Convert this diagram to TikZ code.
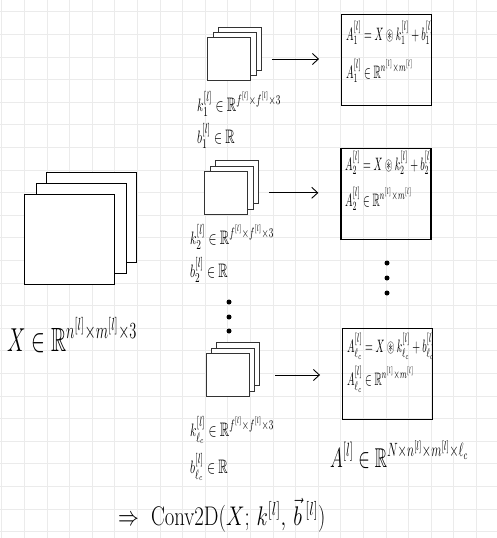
\documentclass[tikz,border=0pt]{standalone}
\usepackage{amssymb}
\usepackage{graphicx}
\usetikzlibrary{arrows.meta}

% 手書き風に縦長にする
\newcommand{\hw}[2][1.7]{\scalebox{1}[#1]{$#2$}}
\newcommand{\lyr}{^{[l]}}

\begin{document}
\begin{tikzpicture}[x=1pt,y=-1pt,
  gridline/.style={black!8, line width=0.6pt},
  slice/.style={draw, fill=white, line width=0.9pt, minimum size=90pt, inner sep=0},
  kslice/.style={draw=black!80, fill=white, line width=0.7pt, minimum size=43pt, inner sep=0},
  outbox/.style={draw, line width=1.3pt, minimum width=90pt, minimum height=91pt, inner sep=0},
  lbl/.style={anchor=base west, inner sep=0},
  conv/.style={-{Straight Barb[length=6pt,width=11pt]}, line width=0.9pt, shorten <=21pt, shorten >=22pt},
  dot/.style={circle, fill, inner sep=0, minimum size=5pt}]
  \useasboundingbox (0,0) rectangle (497,538);
  \fill[white] (0,0) rectangle (497,538);

  % 方眼
  \foreach \i in {0,...,21}
    \draw[gridline] ({1.7+22.6*\i},0) -- ({1.7+22.6*\i},538);
  \foreach \j in {0,...,23}
    \draw[gridline] (0,{11.7+22.6*\j}) -- (497,{11.7+22.6*\j});

  % 入力 X
  \node[slice] (X3) at (91.7,217.8) {};
  \node[slice] (X2) at (81,228.5) {};
  \node[slice] (X1) at (69.3,239.2) {};
  \node[lbl, font=\fontsize{21}{24}\selectfont] (Xlbl) at (7,351)
    {\hw[1.6]{X\in\mathbb{R}^{n\lyr\times m\lyr\times 3}}};

  % カーネル 1
  \node[kslice] (k1c) at (240,49) {};
  \node[kslice] (k1b) at (234.5,54) {};
  \node[kslice] (k1a) at (229,59) {};
  \node[lbl, font=\fontsize{13}{15}\selectfont] (k1lbl) at (197,111)
    {\hw[1.5]{k_1\lyr\in\mathbb{R}^{f\lyr\times f\lyr\times 3}}};
  \node[lbl, font=\fontsize{13}{15}\selectfont] (b1lbl) at (197,143)
    {\hw[1.5]{b_1\lyr\in\mathbb{R}}};

  % カーネル 2
  \node[kslice] (k2c) at (237.2,182.2) {};
  \node[kslice] (k2b) at (231.7,187.5) {};
  \node[kslice] (k2a) at (226.3,192.8) {};
  \node[lbl, font=\fontsize{13}{15}\selectfont] (k2lbl) at (190,244)
    {\hw[1.5]{k_2\lyr\in\mathbb{R}^{f\lyr\times f\lyr\times 3}}};
  \node[lbl, font=\fontsize{13}{15}\selectfont] (b2lbl) at (190,277)
    {\hw[1.5]{b_2\lyr\in\mathbb{R}}};

  % カーネル l_c
  \node[kslice] (k3c) at (238.3,364.2) {};
  \node[kslice] (k3b) at (232.9,369.6) {};
  \node[kslice] (k3a) at (227.5,375) {};
  \node[lbl, font=\fontsize{13}{15}\selectfont] (k3lbl) at (190,436)
    {\hw[1.5]{k_{\ell_c}\lyr\in\mathbb{R}^{f\lyr\times f\lyr\times 3}}};
  \node[lbl, font=\fontsize{13}{15}\selectfont] (b3lbl) at (190,473)
    {\hw[1.5]{b_{\ell_c}\lyr\in\mathbb{R}}};

  % 点々
  \node[dot] (kd1) at (229,302) {};
  \node[dot] (kd2) at (229,317) {};
  \node[dot] (kd3) at (229,331) {};
  \node[dot] (ad1) at (387,263) {};
  \node[dot] (ad2) at (387,278) {};
  \node[dot] (ad3) at (387,293) {};

  % 出力
  \node[outbox] (A1) at (386.7,60.2) {};
  \node[outbox] (A2) at (386,194) {};
  \node[outbox] (A3) at (387.7,373.8) {};
  \node[lbl, font=\fontsize{10}{12}\selectfont] (A1eq) at (346,40)
    {\hw[1.8]{A_1\lyr=X\circledast k_1\lyr+b_1\lyr}};
  \node[lbl, font=\fontsize{10}{12}\selectfont] (A1dim) at (346,78)
    {\hw[1.8]{A_1\lyr\in\mathbb{R}^{n\lyr\times m\lyr}}};
  \node[lbl, font=\fontsize{10}{12}\selectfont] (A2eq) at (345,170)
    {\hw[1.8]{A_2\lyr=X\circledast k_2\lyr+b_2\lyr}};
  \node[lbl, font=\fontsize{10}{12}\selectfont] (A2dim) at (345,206)
    {\hw[1.8]{A_2\lyr\in\mathbb{R}^{n\lyr\times m\lyr}}};
  \node[lbl, font=\fontsize{10}{12}\selectfont] (A3eq) at (347,352)
    {\hw[1.8]{A_{\ell_c}\lyr=X\circledast k_{\ell_c}\lyr+b_{\ell_c}\lyr}};
  \node[lbl, font=\fontsize{10}{12}\selectfont] (A3dim) at (347,385)
    {\hw[1.8]{A_{\ell_c}\lyr\in\mathbb{R}^{n\lyr\times m\lyr}}};
  \node[lbl, font=\fontsize{17}{20}\selectfont] (Albl) at (330,467)
    {\hw[1.6]{A\lyr\in\mathbb{R}^{N\times n\lyr\times m\lyr\times \ell_c}}};

  % 矢印
  \draw[conv] (k1a.east) -- (A1.west |- k1a.east);
  \draw[conv] (k2a.east) -- (A2.west |- k2a.east);
  \draw[conv, shorten <=26pt] (k3a.east) -- (A3.west |- k3a.east);

  % まとめ
  \node[lbl, font=\fontsize{21}{24}\selectfont] (conv2d) at (118,525)
    {\hw[1.3]{\Rightarrow\ \mathrm{Conv2D}(X;\,k\lyr,\,{\vec{b}}\,{}^{[l]})}};
\end{tikzpicture}
\end{document}
